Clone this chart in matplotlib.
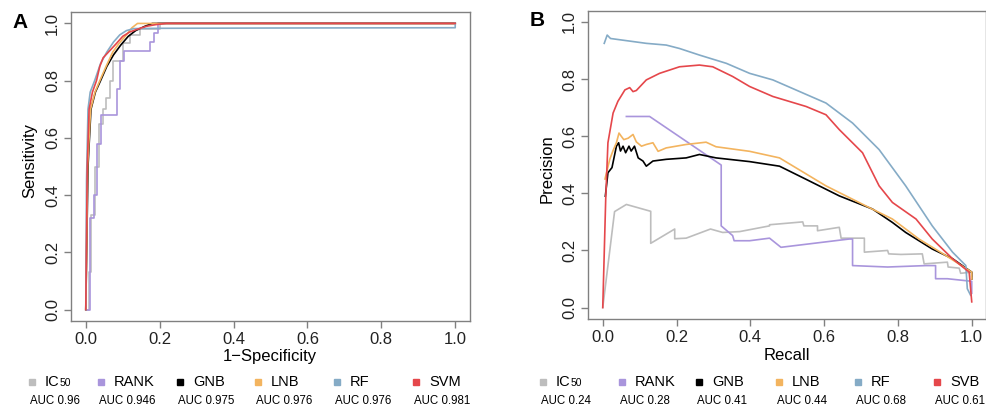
import matplotlib
matplotlib.use("Agg")
import matplotlib.pyplot as plt
from matplotlib.lines import Line2D

plt.rcParams['font.family'] = ['Liberation Sans', 'DejaVu Sans']

W, H = 987, 409

# ---- series names, colours and AUCs ----
names = ['IC50', 'RANK', 'GNB', 'LNB', 'RF', 'SVM']
names_b = ['IC50', 'RANK', 'GNB', 'LNB', 'RF', 'SVB']
colors = ['#bdbdbd', '#a995dc', '#000000', '#f3b45f', '#85abc6', '#e5474b']
auc_roc = ['0.96', '0.946', '0.975', '0.976', '0.976', '0.981']
auc_pr = ['0.24', '0.28', '0.41', '0.44', '0.68', '0.61']

# ---- panel A: ROC curves (1-specificity, sensitivity) ----
ic50_fpr = [0, 0.008, 0.008, 0.015, 0.015, 0.025, 0.025, 0.035, 0.035, 0.047, 0.047, 0.056, 0.056,
            0.065, 0.065, 0.074, 0.074, 0.10, 0.10, 0.12, 0.12, 0.146, 0.146, 0.20, 0.20, 1.0]
ic50_tpr = [0, 0, 0.13, 0.13, 0.33, 0.33, 0.50, 0.50, 0.65, 0.65, 0.70, 0.70, 0.74,
            0.74, 0.80, 0.80, 0.87, 0.87, 0.93, 0.93, 0.96, 0.96, 0.98, 0.98, 1.0, 1.0]
rank_fpr = [0, 0.012, 0.012, 0.022, 0.022, 0.03, 0.03, 0.04, 0.04, 0.085, 0.085, 0.093, 0.093,
            0.103, 0.103, 0.173, 0.173, 0.186, 0.186, 0.195, 0.195, 1.0]
rank_tpr = [0, 0, 0.32, 0.32, 0.40, 0.40, 0.58, 0.58, 0.68, 0.68, 0.77, 0.77, 0.87,
            0.87, 0.905, 0.905, 0.935, 0.935, 0.965, 0.965, 1.0, 1.0]
gnb_fpr = [0, 0.006, 0.014, 0.026, 0.04, 0.057, 0.075, 0.095, 0.115, 0.135, 0.16, 0.18, 1.0]
gnb_tpr = [0, 0.5, 0.7, 0.76, 0.8, 0.85, 0.89, 0.925, 0.955, 0.975, 0.99, 1.0, 1.0]
lnb_fpr = [0, 0.005, 0.013, 0.025, 0.038, 0.055, 0.073, 0.09, 0.11, 0.125, 0.14, 1.0]
lnb_tpr = [0, 0.5, 0.7, 0.76, 0.8, 0.85, 0.9, 0.93, 0.96, 0.985, 1.0, 1.0]
rf_fpr = [0, 0.002, 0.006, 0.012, 0.024, 0.04, 0.057, 0.075, 0.092, 0.11, 0.13, 0.2, 0.5, 1.0, 1.0]
rf_tpr = [0, 0.45, 0.70, 0.76, 0.80, 0.86, 0.90, 0.935, 0.96, 0.975, 0.982, 0.983, 0.984, 0.985, 1.0]
svm_fpr = [0, 0.004, 0.009, 0.018, 0.029, 0.038, 0.047, 0.065, 0.083, 0.10, 0.119, 0.14, 0.164,
           0.19, 0.218, 0.4, 1.0]
svm_tpr = [0, 0.5, 0.7, 0.76, 0.80, 0.85, 0.88, 0.905, 0.93, 0.955, 0.97, 0.98, 0.99,
           0.996, 1.0, 1.0, 1.0]

# ---- panel B: precision-recall curves ----
ic50_rec = [0, 0.032, 0.064, 0.13, 0.13, 0.195, 0.195, 0.226, 0.292, 0.325, 0.371, 0.452, 0.452,
            0.542, 0.545, 0.582, 0.582, 0.641, 0.646, 0.709, 0.709, 0.772, 0.775, 0.808, 0.866,
            0.871, 0.934, 0.936, 0.966, 0.97, 1.0, 1.0]
ic50_pre = [0, 0.336, 0.361, 0.337, 0.225, 0.275, 0.241, 0.243, 0.275, 0.263, 0.266, 0.286, 0.29,
            0.3, 0.286, 0.286, 0.269, 0.281, 0.243, 0.243, 0.194, 0.2, 0.188, 0.186, 0.188,
            0.153, 0.159, 0.142, 0.138, 0.12, 0.124, 0.11]
rank_rec = [0.064, 0.127, 0.321, 0.321, 0.352, 0.356, 0.398, 0.452, 0.483, 0.668, 0.677, 0.677,
            0.772, 0.876, 0.902, 0.902, 0.934, 1.0, 1.0]
rank_pre = [0.669, 0.669, 0.499, 0.286, 0.252, 0.234, 0.234, 0.243, 0.211, 0.24, 0.24, 0.147,
            0.142, 0.147, 0.147, 0.101, 0.101, 0.092, 0.05]
gnb_rec = [0.007, 0.014, 0.025, 0.037, 0.043, 0.048, 0.055, 0.062, 0.071, 0.077, 0.086, 0.096,
           0.109, 0.118, 0.136, 0.172, 0.226, 0.262, 0.307, 0.398, 0.479, 0.551, 0.641, 0.731,
           0.785, 0.821, 0.893, 0.948, 1.0, 1.0]
gnb_pre = [0.39, 0.472, 0.49, 0.565, 0.577, 0.548, 0.565, 0.542, 0.565, 0.548, 0.565, 0.524,
           0.513, 0.495, 0.513, 0.519, 0.524, 0.536, 0.524, 0.511, 0.495, 0.449, 0.391, 0.345,
           0.298, 0.263, 0.205, 0.171, 0.124, 0.10]
lnb_rec = [0.006, 0.019, 0.028, 0.037, 0.044, 0.05, 0.057, 0.069, 0.082, 0.091, 0.105, 0.118,
           0.136, 0.15, 0.172, 0.226, 0.28, 0.307, 0.398, 0.479, 0.605, 0.713, 0.785, 0.857,
           0.93, 1.0, 1.0]
lnb_pre = [0.45, 0.519, 0.55, 0.577, 0.611, 0.6, 0.588, 0.593, 0.606, 0.58, 0.565, 0.571,
           0.577, 0.547, 0.559, 0.571, 0.579, 0.563, 0.547, 0.524, 0.426, 0.356, 0.31, 0.24,
           0.182, 0.124, 0.10]
rf_rec = [0.004, 0.012, 0.021, 0.118, 0.172, 0.208, 0.262, 0.335, 0.398, 0.461, 0.605, 0.677,
          0.749, 0.821, 0.893, 0.948, 0.984, 0.988, 0.997]
rf_pre = [0.925, 0.954, 0.942, 0.925, 0.919, 0.907, 0.884, 0.855, 0.82, 0.797, 0.716, 0.646,
          0.553, 0.426, 0.286, 0.194, 0.147, 0.066, 0.043]
svb_rec = [0, 0.008, 0.014, 0.028, 0.041, 0.06, 0.073, 0.082, 0.091, 0.118, 0.154, 0.208, 0.262,
           0.298, 0.352, 0.398, 0.461, 0.551, 0.605, 0.641, 0.704, 0.749, 0.785, 0.849, 0.893,
           0.948, 0.993, 1.0]
svb_pre = [0, 0.38, 0.577, 0.681, 0.722, 0.762, 0.77, 0.756, 0.76, 0.797, 0.82, 0.843, 0.849,
           0.843, 0.809, 0.774, 0.739, 0.704, 0.675, 0.623, 0.542, 0.426, 0.368, 0.31, 0.24,
           0.171, 0.124, 0.02]

roc = [(ic50_fpr, ic50_tpr), (rank_fpr, rank_tpr), (gnb_fpr, gnb_tpr),
       (lnb_fpr, lnb_tpr), (rf_fpr, rf_tpr), (svm_fpr, svm_tpr)]
pr = [(ic50_rec, ic50_pre), (rank_rec, rank_pre), (gnb_rec, gnb_pre),
      (lnb_rec, lnb_pre), (rf_rec, rf_pre), (svb_rec, svb_pre)]

ticks = [0.0, 0.2, 0.4, 0.6, 0.8, 1.0]


def px_rect(l, t, r, b):
    return [l / W, (H - b) / H, (r - l) / W, (b - t) / H]


def ftext(x, y, s, **kw):
    return fig.text(x / W, (H - y) / H, s, **kw)


def style_axes(ax):
    ax.set_xlim(-0.04, 1.04)
    ax.set_ylim(-0.04, 1.04)
    ax.set_xticks(ticks)
    ax.set_yticks(ticks)
    ax.set_xticklabels([f'{t:.1f}' for t in ticks])
    ax.set_yticklabels([f'{t:.1f}' for t in ticks])
    for sp in ax.spines.values():
        sp.set_color('#808080')
        sp.set_linewidth(1.0)
    ax.tick_params(length=5, width=1.0, color='#808080', labelsize=12,
                   labelcolor='#222222', pad=3)
    plt.setp(ax.get_yticklabels(), rotation=90, va='center', ha='right')


fig = plt.figure(figsize=(W / 100, H / 100), dpi=100)

# panel A
axA = fig.add_axes(px_rect(71, 12, 470, 321))
for (x, y), c in zip(roc, colors):
    axA.plot(x, y, color=c, lw=1.2)
style_axes(axA)
ftext(270, 356, '1\u2212Specificity', ha='center', va='center', fontsize=12)
ftext(30, 160, 'Sensitivity', ha='center', va='center', rotation=90, fontsize=12)
ftext(20, 22, 'A', ha='center', va='center', fontsize=15, fontweight='bold')

# panel B
axB = fig.add_axes(px_rect(588, 10.5, 986.5, 319))
for (x, y), c in zip(pr, colors):
    axB.plot(x, y, color=c, lw=1.2)
style_axes(axB)
ftext(787, 355, 'Recall', ha='center', va='center', fontsize=12)
ftext(547, 169, 'Precision', ha='center', va='center', rotation=90, fontsize=12)
ftext(537, 20, 'B', ha='center', va='center', fontsize=15, fontweight='bold')


# legends under each panel
def draw_legend(xs, labels, aucs):
    for x0, lab, auc, c in zip(xs, labels, aucs, colors):
        fig.add_artist(Line2D([x0 / W], [(H - 382) / H], marker='s', ms=5,
                              color=c, lw=0, transform=fig.transFigure))
        if lab == 'IC50':
            t = ftext(x0 + 13, 382, 'IC', ha='left', va='center', fontsize=10.5)
            fig.add_artist(plt.Annotation('50', xy=(1, 0.08), xycoords=t, ha='left',
                                          va='bottom', fontsize=7.5))
        else:
            ftext(x0 + 13, 382, lab, ha='left', va='center', fontsize=10.5)
        ftext(x0 - 2, 401, 'AUC ' + auc, ha='left', va='center', fontsize=8.3)


draw_legend([32, 101, 180, 258, 337, 416], names, auc_roc)
draw_legend([543, 622, 699, 779, 858, 937], names_b, auc_pr)

fig.savefig('out.png', dpi=100)
